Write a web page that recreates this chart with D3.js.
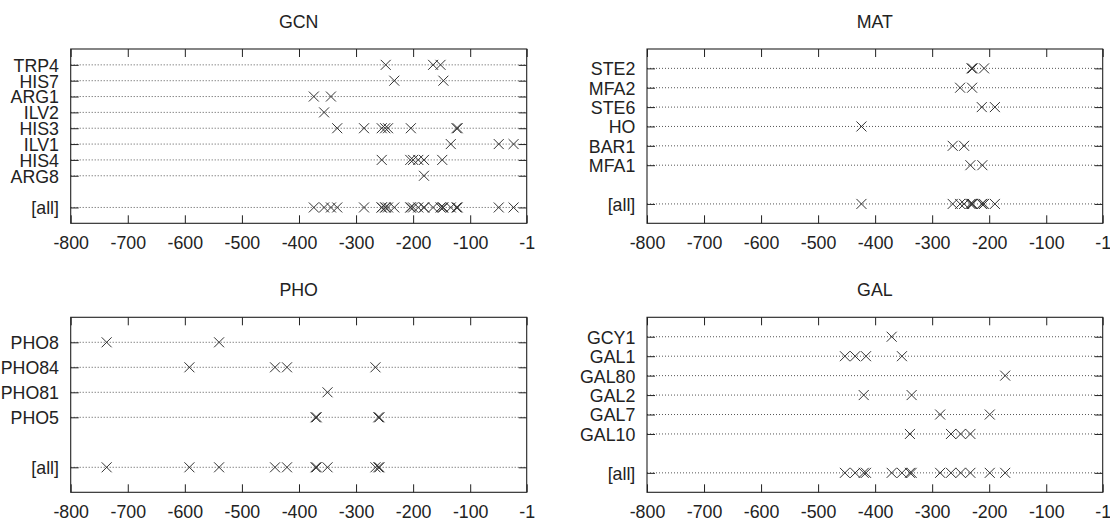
<!DOCTYPE html>
<html>
<head>
<meta charset="utf-8">
<script src="https://cdn.jsdelivr.net/npm/d3@7"></script>
<style>
  html, body { margin: 0; padding: 0; background: #fff; }
  svg { display: block; }
  text { font-family: "Liberation Sans", Arial, Helvetica, sans-serif; fill: #222; }
</style>
</head>
<body>
<svg id="chart" width="1110" height="519"></svg>
<script>
// ---- data (positions in bp upstream) ----
const xTicks = [-800, -700, -600, -500, -400, -300, -200, -100, -1];

const gcnTitle = "GCN";
const gcnGenes = ["TRP4", "HIS7", "ARG1", "ILV2", "HIS3", "ILV1", "HIS4", "ARG8"];
const gcnSites = [
  [-248, -165, -152],
  [-233, -147],
  [-374, -344],
  [-356],
  [-333, -286, -255, -249, -244, -204, -124, -122],
  [-134, -50, -24],
  [-255, -205, -200, -191, -181, -149],
  [-181]
];

const matTitle = "MAT";
const matGenes = ["STE2", "MFA2", "STE6", "HO", "BAR1", "MFA1"];
const matSites = [
  [-231, -229, -209],
  [-251, -230],
  [-213, -190],
  [-424],
  [-264, -244],
  [-233, -212]
];

const phoTitle = "PHO";
const phoGenes = ["PHO8", "PHO84", "PHO81", "PHO5"];
const phoSites = [
  [-737, -540],
  [-592, -442, -421, -266],
  [-350],
  [-371, -369, -261, -259]
];

const galTitle = "GAL";
const galGenes = ["GCY1", "GAL1", "GAL80", "GAL2", "GAL7", "GAL10"];
const galSites = [
  [-371],
  [-453, -435, -416, -353],
  [-172],
  [-420, -336],
  [-286, -199],
  [-339, -267, -250, -233]
];

const allLabel = "[all]";

// ---- layout ----
const panels = [
  { title: gcnTitle, genes: gcnGenes, sites: gcnSites, x0: 70.7, x1: 526.7, y0: 49, y1: 223.3 },
  { title: matTitle, genes: matGenes, sites: matSites, x0: 647, x1: 1102.7, y0: 49, y1: 223.3 },
  { title: phoTitle, genes: phoGenes, sites: phoSites, x0: 70.7, x1: 526.7, y0: 317.3, y1: 492.3 },
  { title: galTitle, genes: galGenes, sites: galSites, x0: 647, x1: 1102.7, y0: 317.3, y1: 492.3 }
];

const FONT = 17.8;
const TICK = 8;
const svg = d3.select("#chart");

panels.forEach(p => {
  const n = p.genes.length;
  const rowNames = p.genes.concat([allLabel]);
  const rowPos = d3.range(1, n + 1).concat([n + 2]);
  const x = d3.scaleLinear().domain([-800, -1]).range([p.x0, p.x1]);
  const y = d3.scaleLinear().domain([0, n + 3]).range([p.y0, p.y1]);
  const nameAt = new Map(rowPos.map((r, i) => [r, rowNames[i]]));

  const g = svg.append("g");

  // dotted grid lines for each row
  g.append("g").selectAll("line").data(rowPos).join("line")
    .attr("x1", p.x0).attr("x2", p.x1)
    .attr("y1", d => y(d)).attr("y2", d => y(d))
    .attr("stroke", "#444").attr("stroke-width", 0.9)
    .attr("stroke-dasharray", "1,2");

  // axes
  const styleAxis = sel => {
    sel.select(".domain").remove();
    sel.selectAll(".tick line").attr("stroke", "#222").attr("stroke-width", 1);
    sel.selectAll("text").style("font-size", FONT + "px").attr("fill", "#222");
  };

  const bottom = g.append("g").attr("transform", `translate(0,${p.y1})`)
    .call(d3.axisBottom(x).tickValues(xTicks).tickSize(-TICK).tickFormat(d => String(d)))
    .call(styleAxis);
  bottom.selectAll("text").attr("dy", null).attr("y", 25.7);

  g.append("g").attr("transform", `translate(0,${p.y0})`)
    .call(d3.axisTop(x).tickValues(xTicks).tickSize(-TICK).tickFormat(""))
    .call(styleAxis);

  g.append("g").attr("transform", `translate(${p.x0},0)`)
    .call(d3.axisLeft(y).tickValues(rowPos).tickSize(-TICK).tickPadding(11.7)
      .tickFormat(d => nameAt.get(d)))
    .call(styleAxis)
    .selectAll("text").attr("dy", "0.36em");

  g.append("g").attr("transform", `translate(${p.x1},0)`)
    .call(d3.axisRight(y).tickValues(rowPos).tickSize(-TICK).tickFormat(""))
    .call(styleAxis);

  // border
  g.append("rect")
    .attr("x", p.x0).attr("y", p.y0)
    .attr("width", p.x1 - p.x0).attr("height", p.y1 - p.y0)
    .attr("fill", "none").attr("stroke", "#222").attr("stroke-width", 1.1);

  // title
  g.append("text")
    .attr("x", (p.x0 + p.x1) / 2).attr("y", p.y0 - 21.5)
    .attr("text-anchor", "middle")
    .style("font-size", FONT + "px")
    .text(p.title);

  // points: each gene row, plus the [all] row with every site
  const pts = [];
  p.sites.forEach((arr, i) => arr.forEach(v => pts.push({ v, r: rowPos[i] })));
  p.sites.forEach(arr => arr.forEach(v => pts.push({ v, r: n + 2 })));

  const s = 5;
  g.append("g").selectAll("path").data(pts).join("path")
    .attr("d", d => {
      const cx = x(d.v), cy = y(d.r);
      return `M${cx - s},${cy - s}L${cx + s},${cy + s}M${cx - s},${cy + s}L${cx + s},${cy - s}`;
    })
    .attr("stroke", "#333").attr("stroke-width", 1).attr("fill", "none");
});
</script>
</body>
</html>
